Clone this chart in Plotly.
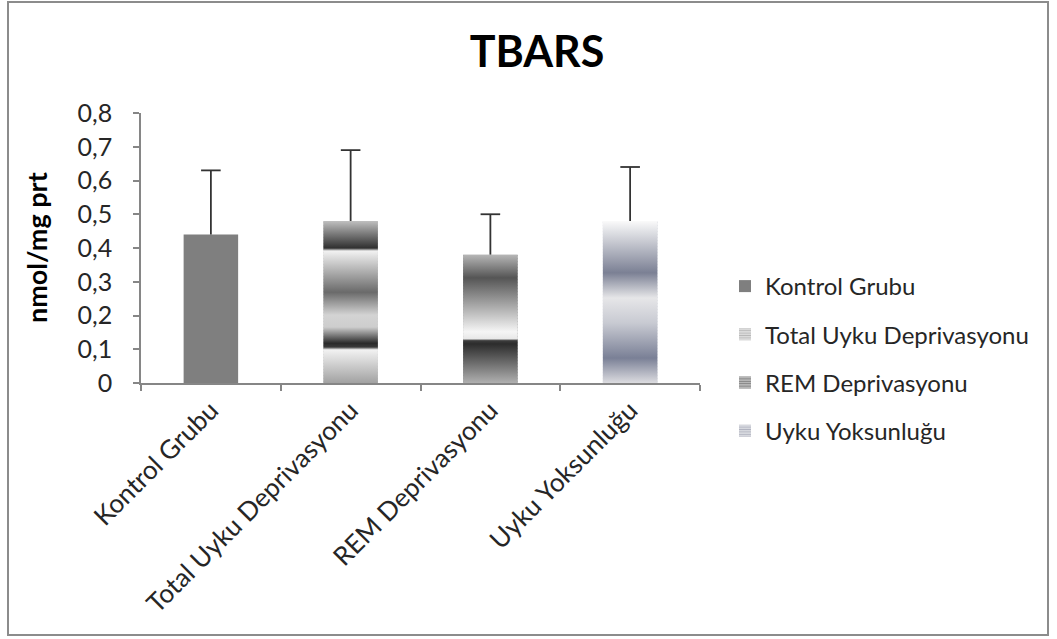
import plotly.graph_objects as go

# --- data -------------------------------------------------------------
groups = ["Kontrol Grubu", "Total Uyku Deprivasyonu", "REM Deprivasyonu", "Uyku Yoksunluğu"]
means = [0.44, 0.48, 0.38, 0.48]
errors = [0.19, 0.21, 0.12, 0.16]
y_ticks = [0, 0.1, 0.2, 0.3, 0.4, 0.5, 0.6, 0.7, 0.8]
y_tick_text = ["0", "0,1", "0,2", "0,3", "0,4", "0,5", "0,6", "0,7", "0,8"]

# --- styling ----------------------------------------------------------
FONT = "Lato"
BAR_W = 0.39
AXIS_GREY = "#868686"
TEXT = "#262626"
ERR = "#333333"

# vertical gradients, stops measured from the bottom (0) to the top (1) of each bar
gradients = [
    None,
    [[0.0, "#a2a2a2"], [0.205, "#f2f2f2"], [0.222, "#3a3a3a"], [0.245, "#2a2a2a"],
     [0.345, "#cdcdcd"], [0.42, "#d3d3d3"], [0.56, "#6a6a6a"], [0.815, "#f2f2f2"],
     [0.833, "#303030"], [0.93, "#828282"], [1.0, "#c0c0c0"]],
    [[0.0, "#b0b0b0"], [0.305, "#2c2c2c"], [0.33, "#3c3c3c"], [0.345, "#e8e8e8"],
     [0.40, "#f5f5f5"], [0.82, "#555555"], [1.0, "#b6b6b6"]],
    [[0.0, "#dcdce0"], [0.154, "#7a8096"], [0.37, "#c8cad2"], [0.525, "#e6e6e8"],
     [0.68, "#7b8094"], [1.0, "#fafafa"]],
]
solid_colors = ["#7f7f7f", "#c8c8c8", "#8a8a8a", "#b4b7c2"]
legend_patterns = [
    None,
    dict(shape="-", bgcolor="#e6e6e6", fgcolor="#8a8a8a", size=3, solidity=0.5),
    dict(shape="-", bgcolor="#c8c8c8", fgcolor="#333333", size=3, solidity=0.5),
    dict(shape="-", bgcolor="#e2e3e8", fgcolor="#7f8498", size=3, solidity=0.5),
]

fig = go.Figure()

# base bars: carry the legend entries and the upward error whiskers
for i, (name, v, e) in enumerate(zip(groups, means, errors)):
    marker = dict(color=solid_colors[i], line=dict(width=0))
    if legend_patterns[i] is not None:
        marker["pattern"] = legend_patterns[i]
    fig.add_trace(go.Bar(
        x=[i], y=[v], width=BAR_W, name=name, legendgroup=name,
        marker=marker,
        error_y=dict(type="data", array=[e], arrayminus=[0], symmetric=False,
                     color=ERR, thickness=1.8, width=0),
        hoverinfo="name+y",
    ))

# gradient fills laid over the patterned bars
for i, v in enumerate(means):
    if gradients[i] is None:
        continue
    x0, x1 = i - BAR_W / 2, i + BAR_W / 2
    fig.add_trace(go.Scatter(
        x=[x0, x1, x1, x0, x0], y=[0, 0, v, v, 0],
        mode="lines", line=dict(width=0), fill="toself",
        fillgradient=dict(type="vertical", colorscale=gradients[i], start=0, stop=v),
        showlegend=False, hoverinfo="skip",
    ))

# caps only at the upper end of each whisker
fig.add_trace(go.Scatter(
    x=list(range(len(groups))), y=[m + e for m, e in zip(means, errors)],
    mode="markers", marker=dict(symbol="line-ew", size=14, line=dict(color=ERR, width=1.8)),
    showlegend=False, hoverinfo="skip",
))

L, R, T, B = 141, 357, 113, 256
W, H = 1057, 639
pw, ph = W - L - R, H - T - B


def px_x(p):
    return (p - L) / pw


def px_y(p):
    return (H - B - p) / ph


fig.update_layout(
    width=W, height=H, autosize=False,
    margin=dict(l=L, r=R, t=T, b=B, pad=0, autoexpand=False),
    paper_bgcolor="white", plot_bgcolor="white",
    barmode="overlay",
    font=dict(family=FONT, color=TEXT),
    title=dict(text="<b>TBARS</b>", x=537 / W, xref="container", xanchor="center",
               y=1 - 52 / H, yref="container", yanchor="middle",
               font=dict(family=FONT, size=43, color="#000000")),
    legend=dict(x=px_x(725), xanchor="left", y=px_y(264), yanchor="top",
                font=dict(family=FONT, size=24, color=TEXT),
                tracegroupgap=14, bgcolor="rgba(0,0,0,0)", itemclick=False),
    showlegend=True,
    shapes=[dict(type="rect", xref="paper", yref="paper",
                 x0=px_x(8), x1=px_x(1048), y0=px_y(635), y1=px_y(2),
                 line=dict(color="#8c8c8c", width=2), layer="below")],
    annotations=[dict(text="<b>nmol/mg prt</b>", textangle=-90, showarrow=False,
                      xref="paper", yref="paper", x=px_x(36), y=px_y(248),
                      xanchor="center", yanchor="middle",
                      font=dict(family=FONT, size=27, color="#000000"))],
)

fig.update_yaxes(
    range=[0, 0.8], tickmode="array", tickvals=y_ticks, ticktext=y_tick_text,
    showgrid=False, zeroline=False, showline=True, linecolor=AXIS_GREY, linewidth=1.5,
    ticks="outside", ticklen=6, tickcolor=AXIS_GREY, tickwidth=1.5,
    tickfont=dict(family=FONT, size=25, color=TEXT), ticklabelstandoff=16,
    fixedrange=True, automargin=False,
)
fig.update_xaxes(
    range=[-0.5, 3.5], tickmode="array", tickvals=list(range(len(groups))), ticktext=groups,
    tickangle=-45, showgrid=False, zeroline=False, showline=True,
    linecolor=AXIS_GREY, linewidth=1.5, ticks="", ticklen=0,
    minor=dict(tickmode="array", tickvals=[-0.5, 0.5, 1.5, 2.5, 3.5], ticks="outside",
               ticklen=6, tickcolor=AXIS_GREY, tickwidth=1.5, showgrid=False),
    tickfont=dict(family=FONT, size=26, color=TEXT),
    fixedrange=True, automargin=False,
)

fig.write_html("out.html")
